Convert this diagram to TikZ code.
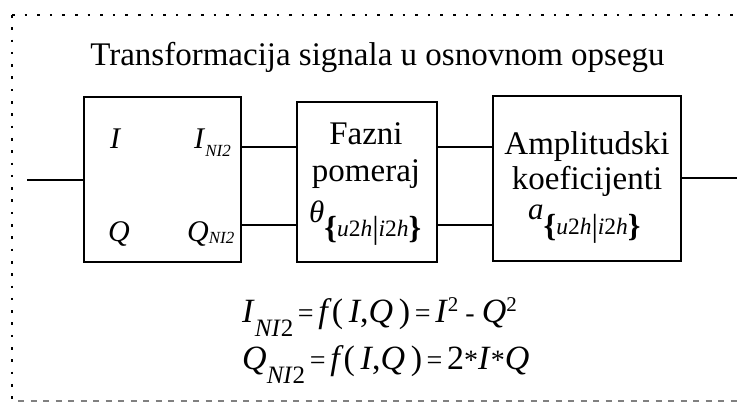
\documentclass[tikz,border=0pt]{standalone}
\usepackage{fontspec}
\setmainfont{Liberation Serif}
\newcommand\fsz[1]{\fontsize{#1}{#1}\selectfont}
\newcommand\brsub{{\fsz{23.5}\raisebox{-1.5pt}{\fsz{32}\textbf{\{}}\textit{u}2\textit{h}\raisebox{-2pt}{\fsz{32}|}\textit{i}2\textit{h}\raisebox{-1.5pt}{\fsz{32}\textbf{\}}}}}
\begin{document}
\begin{tikzpicture}[x=1pt,y=-1pt,
  blk/.style={draw,line width=1.6pt,inner sep=0pt},
  conn/.style={line width=1.6pt},
  lbl/.style={inner sep=0pt,anchor=base},
  lblw/.style={inner sep=0pt,anchor=base west}]
\useasboundingbox (0,0) rectangle (737,403);
% frame
\draw[line width=2.6pt,dash pattern=on 2.6pt off 10pt] (12,15) -- (737,15);
\draw[line width=2.6pt,dash pattern=on 2.6pt off 9.7pt] (12,15) -- (12,400);
\draw[line width=1.4pt,gray,dash pattern=on 6pt off 6.5pt] (18,401) -- (737,401);
% title
\node[lbl] (title) at (377.5,66) {\fsz{33}Transformacija signala u osnovnom opsegu};
% boxes
\node[blk,minimum width=157pt,minimum height=165pt] (b1) at (162.5,179.5) {};
\node[blk,minimum width=140pt,minimum height=160pt] (b2) at (367,182) {};
\node[blk,minimum width=188pt,minimum height=165pt] (b3) at (587,178.5) {};
% box 1 labels
\node[lblw] (i) at (110,149) {\fsz{30}\textit{I}};
\node[lblw] (q) at (108,242) {\fsz{30}\textit{Q}};
\node[lblw] (inl) at (194,149) {\fsz{30}\textit{I}\raisebox{-8pt}{\fsz{17}\textit{NI2}}};
\node[lblw] (qnl) at (187,242) {\fsz{30}\textit{Q}\raisebox{-2pt}{\fsz{17}\textit{NI2}}};
% box 2 labels
\node[lbl] (f1) at (366,145) {\fsz{33}Fazni};
\node[lbl] (f2) at (366,182) {\fsz{33}pomeraj};
\node[lblw] (th) at (309,223) {\fsz{31}\textit{θ}\raisebox{-14pt}{\brsub}};
% box 3 labels
\node[lbl] (a1) at (587,155) {\fsz{33}Amplitudski};
\node[lbl] (a2) at (587,190) {\fsz{33}koeficijenti};
\node[lblw] (al) at (528,220) {\fsz{31}\textit{a}\raisebox{-15pt}{\brsub}};
% equations
\node[lblw] (e1) at (242,323) {\fsz{34}\textit{I}\raisebox{-14pt}{\fsz{25}\textit{NI}2}\fsz{28}\,=\,\fsz{34}\textit{f}(\,\textit{I},\textit{Q}\,)\fsz{28}\,=\,\fsz{34}\textit{I}\raisebox{11pt}{\fsz{21}2}\fsz{28}\ -\ \fsz{34}\textit{Q}\raisebox{11pt}{\fsz{21}2}};
\node[lblw] (e2) at (242,370) {\fsz{34}\textit{Q}\raisebox{-14pt}{\fsz{25}\textit{NI}2}\fsz{28}\,=\,\fsz{34}\textit{f}(\,\textit{I},\textit{Q}\,)\fsz{28}\,=\,\fsz{34}2\fsz{28}*\fsz{34}\textit{I}\fsz{28}*\fsz{34}\textit{Q}};
% connectors
\coordinate (inp) at (27,180);
\coordinate (outp) at (737,178);
\coordinate (r1) at (0,147);
\coordinate (r2) at (0,225);
\draw[conn] (inp) -- (b1.west |- inp);
\draw[conn] (b1.east |- r1) -- (b2.west |- r1);
\draw[conn] (b1.east |- r2) -- (b2.west |- r2);
\draw[conn] (b2.east |- r1) -- (b3.west |- r1);
\draw[conn] (b2.east |- r2) -- (b3.west |- r2);
\draw[conn] (b3.east |- outp) -- (outp);
\end{tikzpicture}
\end{document}
